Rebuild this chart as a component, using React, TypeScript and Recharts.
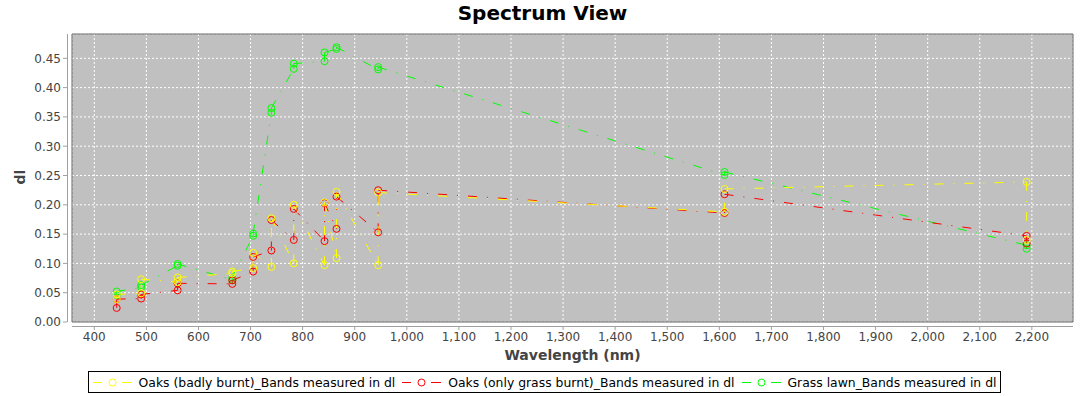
import React from 'react';
import { LineChart, Line, XAxis, YAxis, CartesianGrid, ReferenceArea } from 'recharts';

const wavelengths = [443, 490, 560, 665, 705, 740, 783, 842, 865, 945, 1610, 2190];

// two sample pixels per band, in the order the path visits them
const badlyBurntA = [0.039, 0.049, 0.068, 0.083, 0.092, 0.094, 0.1, 0.097, 0.109, 0.097, 0.188, 0.239];
const badlyBurntB = [0.047, 0.073, 0.076, 0.086, 0.118, 0.177, 0.2, 0.204, 0.222, 0.221, 0.227, 0.14];
const grassBurntA = [0.024, 0.04, 0.054, 0.065, 0.086, 0.122, 0.14, 0.138, 0.159, 0.153, 0.186, 0.147];
const grassBurntB = [0.039, 0.047, 0.066, 0.071, 0.111, 0.174, 0.193, 0.203, 0.214, 0.225, 0.218, 0.134];
const lawnA = [0.046, 0.059, 0.096, 0.072, 0.147, 0.357, 0.432, 0.445, 0.466, 0.431, 0.251, 0.131];
const lawnB = [0.052, 0.063, 0.099, 0.076, 0.151, 0.365, 0.441, 0.46, 0.469, 0.435, 0.256, 0.125];

const seriesNames = [
  'Oaks (badly burnt)_Bands measured in dl',
  'Oaks (only grass burnt)_Bands measured in dl',
  'Grass lawn_Bands measured in dl',
];
const seriesColors = ['#ffff00', '#ff0000', '#00ff00'];

const xTicks = [400, 500, 600, 700, 800, 900, 1000, 1100, 1200, 1300, 1400, 1500, 1600, 1700, 1800, 1900, 2000, 2100, 2200];
const yTicks = [0, 0.05, 0.1, 0.15, 0.2, 0.25, 0.3, 0.35, 0.4, 0.45];

const X_DOMAIN: [number, number] = [357.2, 2279];
const Y_DOMAIN: [number, number] = [0, 0.4915];

const W = 1085;
const H = 396;
const PLOT_LEFT = 72;
const PLOT_TOP = 34;
const PLOT_RIGHT = 1073;
const PLOT_BOTTOM = 322;

const FONT = '"DejaVu Sans", sans-serif';
const DASH = '9 10 1 10';

type Pt = { x: number; y: number };

const buildPath = (a: number[], b: number[]): Pt[] => {
  const pts: Pt[] = [];
  wavelengths.forEach((w, i) => {
    pts.push({ x: w, y: a[i] });
    pts.push({ x: w, y: b[i] });
  });
  return pts;
};

const series = [
  { name: seriesNames[0], color: seriesColors[0], pts: buildPath(badlyBurntA, badlyBurntB) },
  { name: seriesNames[1], color: seriesColors[1], pts: buildPath(grassBurntA, grassBurntB) },
  { name: seriesNames[2], color: seriesColors[2], pts: buildPath(lawnA, lawnB) },
];

// jfreechart draws in reverse order, first series on top
const drawOrder = [...series].reverse();

const XTick = (props: any) => {
  const { x, payload } = props;
  return (
    <g>
      <line x1={x} x2={x} y1={PLOT_BOTTOM + 5} y2={PLOT_BOTTOM + 8} stroke="#a0a0a0" />
      <text x={x} y={PLOT_BOTTOM + 19} textAnchor="middle" fontSize={12} fill="#444" fontFamily={FONT}>
        {Number(payload.value).toLocaleString('en-US')}
      </text>
    </g>
  );
};

const YTick = (props: any) => {
  const { y, payload } = props;
  return (
    <g>
      <line x1={PLOT_LEFT - 9} x2={PLOT_LEFT - 5} y1={y} y2={y} stroke="#a0a0a0" />
      <text x={PLOT_LEFT - 11} y={y + 4.3} textAnchor="end" fontSize={12} fill="#444" fontFamily={FONT}>
        {Number(payload.value).toFixed(2)}
      </text>
    </g>
  );
};

const LegendSymbol = ({ color }: { color: string }) => (
  <svg width={39} height={12} style={{ display: 'block' }}>
    <line x1={0} x2={9} y1={6.5} y2={6.5} stroke={color} />
    <circle cx={19.5} cy={6.5} r={3.5} fill="none" stroke={color} />
    <line x1={29} x2={39} y1={6.5} y2={6.5} stroke={color} />
  </svg>
);

export default function App() {
  return (
    <div style={{ position: 'absolute', left: 0, top: 0, width: W, height: H, background: '#fff', overflow: 'hidden' }}>
      <div
        style={{
          position: 'absolute', left: 0, top: 1, width: W, textAlign: 'center',
          fontFamily: FONT, fontWeight: 'bold', fontSize: 20, lineHeight: '24px', color: '#000',
        }}
      >
        Spectrum View
      </div>

      <div style={{ position: 'absolute', left: 0, top: 0 }}>
        <LineChart width={W} height={H} margin={{ top: PLOT_TOP, right: W - PLOT_RIGHT, left: 12, bottom: 44 }}>
          <CartesianGrid stroke="#ffffff" strokeDasharray="2 2" fill="#c0c0c0" fillOpacity={1} />
          <XAxis
            type="number"
            dataKey="x"
            domain={X_DOMAIN}
            ticks={xTicks}
            allowDataOverflow
            height={30}
            axisLine={false}
            tickLine={false}
            tick={(p: any) => <XTick {...p} />}
          />
          <YAxis
            type="number"
            dataKey="y"
            domain={Y_DOMAIN}
            ticks={yTicks}
            allowDataOverflow
            width={60}
            axisLine={false}
            tickLine={false}
            tick={(p: any) => <YTick {...p} />}
          />
          {drawOrder.map((s) =>
            s.pts.slice(0, -1).map((p, i) => (
              <Line
                key={`${s.name}-seg-${i}`}
                data={[p, s.pts[i + 1]]}
                dataKey="y"
                type="linear"
                stroke={s.color}
                strokeWidth={1}
                strokeDasharray={DASH}
                dot={false}
                activeDot={false}
                isAnimationActive={false}
              />
            ))
          )}
          {drawOrder.map((s) => (
            <Line
              key={`${s.name}-dots`}
              data={s.pts}
              dataKey="y"
              type="linear"
              stroke="none"
              dot={{ r: 3.5, stroke: s.color, strokeWidth: 1, fill: 'none' }}
              activeDot={false}
              isAnimationActive={false}
            />
          ))}
          <ReferenceArea
            x1={X_DOMAIN[0]}
            x2={X_DOMAIN[1]}
            y1={Y_DOMAIN[0]}
            y2={Y_DOMAIN[1]}
            fill="none"
            stroke="#666"
            strokeWidth={1}
          />
        </LineChart>
      </div>

      <svg width={W} height={H} style={{ position: 'absolute', left: 0, top: 0, pointerEvents: 'none' }}>
        <line x1={PLOT_LEFT - 4.5} x2={PLOT_LEFT - 4.5} y1={PLOT_TOP} y2={PLOT_BOTTOM} stroke="#a0a0a0" />
        <line x1={PLOT_LEFT} x2={PLOT_RIGHT} y1={PLOT_BOTTOM + 4.5} y2={PLOT_BOTTOM + 4.5} stroke="#a0a0a0" />
        <text
          x={20}
          y={177}
          dy={5}
          transform="rotate(-90 20 177)"
          textAnchor="middle"
          fontFamily={FONT}
          fontWeight="bold"
          fontSize={14}
          fill="#444"
        >
          dl
        </text>
        <text x={(PLOT_LEFT + PLOT_RIGHT) / 2} y={360} textAnchor="middle" fontFamily={FONT} fontWeight="bold" fontSize={14} fill="#444">
          Wavelength (nm)
        </text>
      </svg>

      <div style={{ position: 'absolute', left: 2, top: 371, width: W, display: 'flex', justifyContent: 'center' }}>
        <div
          style={{
            display: 'flex', alignItems: 'center', border: '1px solid #000', height: 22,
            padding: '0 4px', fontFamily: FONT, fontSize: 12.4, color: '#000', boxSizing: 'border-box',
          }}
        >
          {series.map((s, i) => (
            <div key={s.name} style={{ display: 'flex', alignItems: 'center', marginLeft: i === 0 ? 0 : 7 }}>
              <LegendSymbol color={s.color} />
              <span style={{ marginLeft: 7, whiteSpace: 'nowrap' }}>{s.name}</span>
            </div>
          ))}
        </div>
      </div>
    </div>
  );
}
